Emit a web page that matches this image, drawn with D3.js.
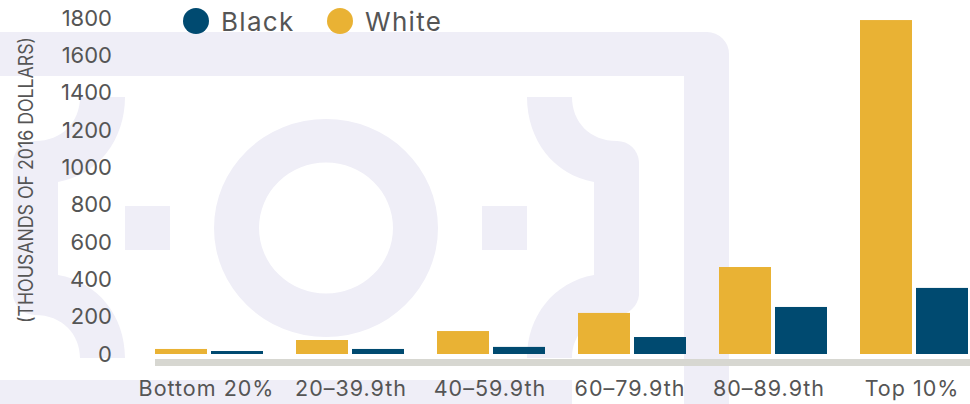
<!DOCTYPE html>
<html>
<head>
<meta charset="utf-8">
<script src="https://cdn.jsdelivr.net/npm/d3@7"></script>
<style>
  html, body { margin: 0; padding: 0; background: #fff; overflow: hidden; }
  text { font-family: Inter, "Noto Sans", sans-serif; fill: #555; }
</style>
</head>
<body>
<div id="chart"></div>
<script>
var categories = ["Bottom 20%", "20\u201339.9th", "40\u201359.9th", "60\u201379.9th", "80\u201389.9th", "Top 10%"];
var white = [27, 75, 123, 220, 466, 1789];
var black = [16, 27, 38, 91, 252, 354];
var yTicks = [0, 200, 400, 600, 800, 1000, 1200, 1400, 1600, 1800];
var seriesNames = ["Black", "White"];
var seriesColors = ["#004a70", "#e9b234"];

var width = 970, height = 404;
var svg = d3.select("#chart").append("svg").attr("width", width).attr("height", height);

// watermark behind the chart
var wm = svg.append("g").attr("fill", "#efeef7");
wm.append("path").attr("d", "M0,32H707a22,22 0 0 1 22,22V404H684V76H0Z");
wm.append("path").attr("d", "M0,380H572V404H0Z");
wm.append("path").attr("fill-rule", "evenodd")
  .attr("d", "M214,228a112,109 0 1 0 224,0a112,109 0 1 0 -224,0Z M259,228a67,65.5 0 1 0 134,0a67,65.5 0 1 0 -134,0Z");
wm.append("rect").attr("x", 125).attr("y", 206).attr("width", 45).attr("height", 44);
wm.append("rect").attr("x", 482).attr("y", 206).attr("width", 45).attr("height", 44);
// the two curly braces
wm.append("path").attr("d", "M125,97C125,140 98,175 58,182V275C98,282 125,316 125,358H80C80,334 62,315 35,315A22,22 0 0 1 13,295V162A22,22 0 0 1 35,141C62,141 80,122 80,97Z");
wm.append("path").attr("d", "M527,97C527,140 554,175 594,182V275C554,282 527,316 527,358H572C572,334 590,315 617,315A22,22 0 0 0 639,295V162A22,22 0 0 0 617,141C590,141 572,122 572,97Z");

var y = d3.scaleLinear().domain([0, 1800]).range([354, 18]);
var x = d3.scaleBand().domain(categories).range([155, 155 + 141 * 6]);

var gy = svg.append("g").attr("transform", "translate(112,0)")
  .call(d3.axisLeft(y).tickValues(yTicks).tickFormat(d3.format("d")).tickSize(0).tickPadding(0));
gy.select(".domain").remove();
gy.selectAll("text").attr("font-size", 22).style("font-family", "Inter, sans-serif");

svg.append("text").attr("transform", "translate(33,180) rotate(-90)")
  .attr("text-anchor", "middle").attr("font-size", 19.5)
  .attr("textLength", 286).attr("lengthAdjust", "spacingAndGlyphs")
  .text("(THOUSANDS OF 2016 DOLLARS)");

// grey baseline
svg.append("rect").attr("x", 155).attr("y", 359).attr("width", 815).attr("height", 7).attr("fill", "#d7d7d1");

var barW = 52, gap = 4;
svg.append("g").selectAll("rect").data(white).enter().append("rect")
  .attr("x", function (d, i) { return x(categories[i]); })
  .attr("y", function (d) { return y(d); })
  .attr("width", barW)
  .attr("height", function (d) { return y(0) - y(d); })
  .attr("fill", seriesColors[1]);
svg.append("g").selectAll("rect").data(black).enter().append("rect")
  .attr("x", function (d, i) { return x(categories[i]) + barW + gap; })
  .attr("y", function (d) { return y(d); })
  .attr("width", barW)
  .attr("height", function (d) { return y(0) - y(d); })
  .attr("fill", seriesColors[0]);

// labels are not quite centred under the groups in the original
var labelNudge = [-19, -15.5, -17.5, -18.5, -20.5, -18.5];
svg.append("g").selectAll("text").data(categories).enter().append("text")
  .attr("x", function (d, i) { return x(d) + x.bandwidth() / 2 + labelNudge[i]; })
  .attr("y", 396).attr("text-anchor", "middle").attr("font-size", 21.5).attr("letter-spacing", 1)
  .text(function (d) { return d; });

var legendX = [196, 340];
seriesNames.forEach(function (name, i) {
  svg.append("circle").attr("cx", legendX[i]).attr("cy", 21).attr("r", 13).attr("fill", seriesColors[i]);
  svg.append("text").attr("x", legendX[i] + 25).attr("y", 31).attr("font-size", 26).attr("letter-spacing", 1.3).text(name);
});
</script>
</body>
</html>
